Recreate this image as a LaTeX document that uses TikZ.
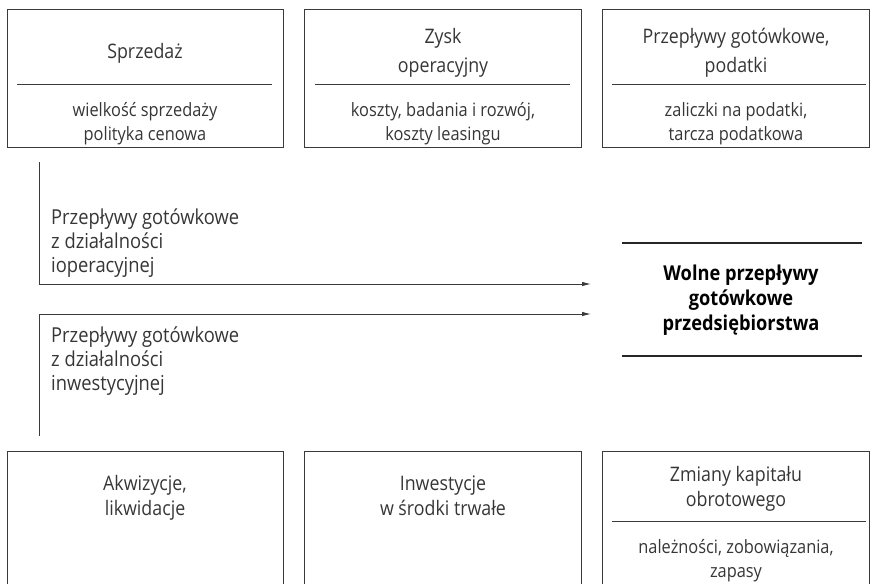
\documentclass[tikz,border=0pt]{standalone}
\usepackage{fontspec}
\setmainfont{Open Sans}[FakeStretch=0.89]
\usetikzlibrary{arrows.meta}
\definecolor{ln}{HTML}{3A3A3A}
\definecolor{tx}{HTML}{363636}
\begin{document}
\begin{tikzpicture}[x=1pt,y=-1pt,
  box/.style={draw=ln, line width=0.9pt, inner sep=0pt, anchor=north west, minimum height=138pt},
  lowbox/.style={draw=ln, line width=0.9pt, inner sep=0pt, anchor=north west, minimum height=200pt},
  ttl/.style={anchor=base, text=tx, inner sep=0pt, font=\fontsize{20}{24}\selectfont},
  sb/.style={anchor=base, text=tx, inner sep=0pt, font=\fontsize{18.4}{22}\selectfont},
  lbl/.style={anchor=base west, text=tx, inner sep=0pt, font=\fontsize{20.6}{24}\selectfont},
  bd/.style={anchor=base, text=black, inner sep=0pt, font=\fontsize{20.5}{24}\selectfont\bfseries},
  sep/.style={draw=ln, line width=0.9pt},
  heavy/.style={draw=black!85, line width=2.7pt},
  flow/.style={draw=ln, line width=0.9pt, -{Latex[length=9pt,width=4.5pt]}}]
\useasboundingbox (0,0) rectangle (871,584);
\clip (0,0) rectangle (871,584);
% top boxes
\node[box, minimum width=276pt] (b1) at (7,9) {};
\node[box, minimum width=277pt] (b2) at (304,9) {};
\node[box, minimum width=267pt] (b3) at (602,9) {};
\draw[sep] (17,84) -- (272,84);
\draw[sep] (315,84) -- (570,84);
\draw[sep] (612,84) -- (866,84);
\node[ttl] (t1) at (145,58) {Sprzedaż};
\node[ttl] (t2a) at (443,43) {Zysk};
\node[ttl] (t2b) at (443,72) {operacyjny};
\node[ttl] (t3a) at (736,43) {Przepływy gotówkowe,};
\node[ttl] (t3b) at (736,72) {podatki};
\node[sb] (s1a) at (145,116) {wielkość sprzedaży};
\node[sb] (s1b) at (145,140) {polityka cenowa};
\node[sb] (s2a) at (443,116) {koszty, badania i rozwój,};
\node[sb] (s2b) at (443,140) {koszty leasingu};
\node[sb] (s3a) at (736,116) {zaliczki na podatki,};
\node[sb] (s3b) at (736,140) {tarcza podatkowa};
% central
\draw[heavy] (622,243) -- (862,243);
\draw[heavy] (622,356) -- (862,356);
\node[bd] (f1) at (741,280) {Wolne przepływy};
\node[bd] (f2) at (741,305) {gotówkowe};
\node[bd] (f3) at (741,330) {przedsiębiorstwa};
% flows
\coordinate (vtop) at (39,162);
\coordinate (vbot) at (39,436);
\coordinate (e1) at (591,284);
\coordinate (e2) at (591,314);
\draw[flow] (vtop) |- (e1);
\draw[flow] (vbot) |- (e2);
\node[lbl] (l1a) at (51,224) {Przepływy gotówkowe};
\node[lbl] (l1b) at (51,248) {z działalności};
\node[lbl] (l1c) at (51,272) {ioperacyjnej};
\node[lbl] (l2a) at (51,342) {Przepływy gotówkowe};
\node[lbl] (l2b) at (51,366) {z działalności};
\node[lbl] (l2c) at (51,390) {inwestycyjnej};
% bottom boxes
\node[lowbox, minimum width=276pt] (c1) at (7,451) {};
\node[lowbox, minimum width=277pt] (c2) at (304,451) {};
\node[lowbox, minimum width=267pt] (c3) at (602,451) {};
\node[ttl] (u1a) at (145,490) {Akwizycje,};
\node[ttl] (u1b) at (145,515) {likwidacje};
\node[ttl] (u2a) at (443,490) {Inwestycje};
\node[ttl] (u2b) at (443,515) {w środki trwałe};
\node[ttl] (u3a) at (736,481) {Zmiany kapitału};
\node[ttl] (u3b) at (736,506) {obrotowego};
\draw[sep] (612,521) -- (866,521);
\node[sb] (v3a) at (736,553) {należności, zobowiązania,};
\node[sb] (v3b) at (736,577) {zapasy};
\end{tikzpicture}
\end{document}
